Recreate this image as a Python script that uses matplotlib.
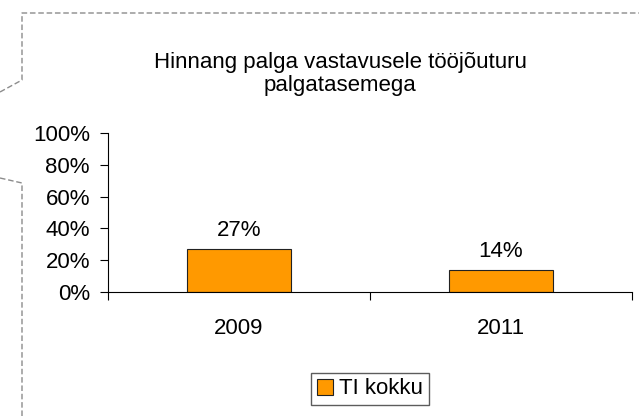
import matplotlib.pyplot as plt
from matplotlib.lines import Line2D
from matplotlib.patches import Patch

# data
years = ["2009", "2011"]
values = [27, 14]
series_name = "TI kokku"
title = "Hinnang palga vastavusele tööjõuturu\npalgatasemega"

plt.rcParams["font.family"] = ["Liberation Sans", "DejaVu Sans"]

W, H = 639, 417
fig = plt.figure(figsize=(W / 100, H / 100), dpi=100)

# dashed callout-like frame
def px(x, y):
    return x / W, 1 - y / H

frame = [(0, 92), (22, 80), (22, 13), (639, 13)]
frame2 = [(0, 178), (22, 183), (22, 417)]
for pts in (frame, frame2):
    xs, ys = zip(*[px(x, y) for x, y in pts])
    fig.add_artist(Line2D(xs, ys, color="#8c8c8c", lw=1, ls=(0, (4, 2))))

ax = fig.add_axes([108 / W, 1 - 292 / H, (632 - 108) / W, (292 - 133) / H])
x = range(len(years))
bars = ax.bar(x, values, width=0.4, color="#FF9900", edgecolor="#222222", linewidth=0.8)
for i, v in enumerate(values):
    ax.text(i, v + 5, f"{v}%", ha="center", va="bottom", fontsize=16)

ax.set_xlim(-0.5, 1.5)
ax.set_ylim(0, 100)
ax.set_yticks(range(0, 101, 20))
ax.set_yticklabels([f"{t}%" for t in range(0, 101, 20)], fontsize=16)
ax.set_xticks([-0.5, 0.5, 1.5], minor=False)
ax.set_xticklabels([])
ax.set_xticks(list(x), minor=True)
ax.set_xticklabels(years, minor=True, fontsize=16)
ax.tick_params(axis="x", which="minor", length=0, pad=19)
ax.tick_params(axis="x", which="major", length=6, direction="out")
ax.tick_params(axis="y", length=6, direction="out", pad=7)
for s in ("top", "right"):
    ax.spines[s].set_visible(False)

fig.text(340 / W, 1 - 74 / H, title, ha="center", va="center", fontsize=16, linespacing=1.15)

handle = Patch(facecolor="#FF9900", edgecolor="#222222", linewidth=0.8)
fig.legend([handle], [series_name], loc="center", bbox_to_anchor=(370 / W, 1 - 389 / H),
           fontsize=16, frameon=True, fancybox=False, edgecolor="#333333",
           handlelength=0.7, handleheight=0.7, handletextpad=0.3, borderpad=0.25)

fig.savefig("out.png", dpi=100)
